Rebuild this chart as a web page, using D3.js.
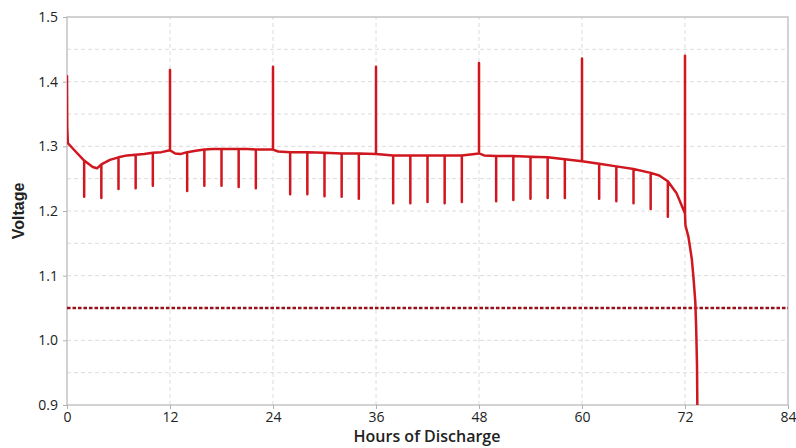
<!DOCTYPE html>
<html>
<head>
<meta charset="utf-8">
<script src="https://cdn.jsdelivr.net/npm/d3@7"></script>
<style>
  body { margin: 0; background: #fff; }
  svg { display: block; }
</style>
</head>
<body>
<div id="chart"></div>
<script>
// discharge curve (hours, volts) - the pulses hang off the even hours
const baseHours = [0, 0.01, 0.03, 0.1, 1, 2, 3, 3.5, 4, 5, 6, 7, 8, 9, 10, 11, 12, 12.6, 13.2, 14, 15, 16, 17, 18, 19, 20, 21, 22, 23, 24, 24.6,
  26, 28, 30, 32, 34, 36, 38, 40, 42, 44, 46, 48, 48.6, 50, 52, 54, 56, 58, 60, 62, 64, 66, 68, 69, 70, 71, 72,
  72.05, 72.4, 72.8, 73.0, 73.2, 73.3, 73.4, 73.45];
const baseVolts = [1.41, 1.38, 1.33, 1.305, 1.292, 1.278, 1.268, 1.266, 1.272, 1.279, 1.283, 1.286, 1.287, 1.288, 1.290, 1.291, 1.294, 1.289, 1.288, 1.291, 1.293, 1.295, 1.296, 1.296, 1.296, 1.296, 1.296, 1.295, 1.295, 1.295, 1.292,
  1.291, 1.291, 1.290, 1.289, 1.289, 1.288, 1.286, 1.286, 1.286, 1.286, 1.286, 1.289, 1.286, 1.285, 1.285, 1.284, 1.283, 1.280, 1.277, 1.273, 1.269, 1.265, 1.259, 1.255, 1.246, 1.228, 1.196,
  1.178, 1.16, 1.125, 1.095, 1.06, 1.02, 0.96, 0.88];

const pulseHours = [2, 4, 6, 8, 10, 12, 14, 16, 18, 20, 22, 24, 26, 28, 30, 32, 34, 36,
  38, 40, 42, 44, 46, 48, 50, 52, 54, 56, 58, 60, 62, 64, 66, 68, 70, 72];
const pulseVolts = [1.222, 1.220, 1.234, 1.235, 1.239, 1.418, 1.231, 1.239, 1.239, 1.237, 1.235, 1.423,
  1.226, 1.226, 1.223, 1.222, 1.219, 1.423, 1.212, 1.212, 1.214, 1.212, 1.214, 1.429,
  1.215, 1.217, 1.219, 1.220, 1.220, 1.436, 1.219, 1.215, 1.212, 1.203, 1.191, 1.440];

const cutoffVolt = 1.05;
const xTicks = [0, 12, 24, 36, 48, 60, 72, 84];
const yTicks = [0.9, 1.0, 1.1, 1.2, 1.3, 1.4, 1.5];
const yGrid = [0.95, 1.0, 1.05, 1.1, 1.15, 1.2, 1.25, 1.3, 1.35, 1.4, 1.45];

const W = 796, H = 448;
const margin = { top: 17, right: 8, bottom: 43, left: 67 };

const svg = d3.select("#chart").append("svg")
  .attr("width", W).attr("height", H);

let x = d3.scaleLinear().domain([0, 84]).range([margin.left, W - margin.right]);
let y = d3.scaleLinear().domain([0.9, 1.5]).range([H - margin.bottom, margin.top]);

// grid
svg.append("g").selectAll("line").data(yGrid).join("line")
  .attr("x1", x(0)).attr("x2", x(84))
  .attr("y1", d => y(d)).attr("y2", d => y(d))
  .attr("stroke", "#dcdcdc").attr("stroke-dasharray", "4,3");
svg.append("g").selectAll("line").data(xTicks.slice(1, -1)).join("line")
  .attr("x1", d => x(d)).attr("x2", d => x(d))
  .attr("y1", y(0.9)).attr("y2", y(1.5))
  .attr("stroke", "#dcdcdc").attr("stroke-dasharray", "4,3");

// frame
svg.append("rect")
  .attr("x", x(0)).attr("y", y(1.5))
  .attr("width", x(84) - x(0)).attr("height", y(0.9) - y(1.5))
  .attr("fill", "none").attr("stroke", "#c4c4c4").attr("stroke-width", 1.5);

// axes
const leftAxis = d3.axisLeft(y).tickValues(yTicks).tickFormat(d3.format(".1f")).tickSize(4).tickPadding(5);
const bottomAxis = d3.axisBottom(x).tickValues(xTicks).tickSize(4).tickPadding(3);

const gy = svg.append("g").attr("transform", `translate(${x(0)},0)`).call(leftAxis);
const gx = svg.append("g").attr("transform", `translate(0,${y(0.9)})`).call(bottomAxis);
[gx, gy].forEach(g => {
  g.select(".domain").remove();
  g.selectAll(".tick line").attr("stroke", "#b0b0b0");
  g.selectAll(".tick text").attr("fill", "#222")
    .style("font-family", "'Open Sans', 'Noto Sans', sans-serif").style("font-size", "14px");
});

// clip for the end of the curve
svg.append("clipPath").attr("id", "plotclip").append("rect")
  .attr("x", x(0)).attr("y", y(1.5))
  .attr("width", x(84) - x(0)).attr("height", y(0.9) - y(1.5));

// cutoff line
svg.append("line")
  .attr("x1", x(0)).attr("x2", x(84))
  .attr("y1", y(cutoffVolt)).attr("y2", y(cutoffVolt))
  .attr("stroke", "#9a1018").attr("stroke-width", 2.4).attr("stroke-dasharray", "3.5,2");

// build the path: at each pulse hour go out to the pulse value and come back
let pts = [];
baseHours.forEach((h, i) => {
  pts.push([h, baseVolts[i]]);
  let k = pulseHours.indexOf(h);
  if (k >= 0) {
    pts.push([h, pulseVolts[k]]);
    pts.push([h, baseVolts[i]]);
  }
});

const line = d3.line().x(d => x(d[0])).y(d => y(d[1]));
svg.append("path")
  .datum(pts)
  .attr("clip-path", "url(#plotclip)")
  .attr("d", line)
  .attr("fill", "none")
  .attr("stroke", "#d0161e")
  .attr("stroke-width", 2.5)
  .attr("stroke-linejoin", "round");

// labels
svg.append("text")
  .attr("transform", `translate(24,${(y(0.9) + y(1.5)) / 2}) rotate(-90)`)
  .attr("text-anchor", "middle")
  .style("font-family", "'Liberation Sans', Arial, sans-serif")
  .style("font-weight", "bold").style("font-size", "16px")
  .attr("fill", "#222")
  .text("Voltage");

svg.append("text")
  .attr("x", 427).attr("y", 442)
  .attr("text-anchor", "middle")
  .style("font-family", "'Open Sans', 'Noto Sans', sans-serif")
  .style("font-size", "16px").style("font-weight", "600")
  .attr("fill", "#222")
  .text("Hours of Discharge");
</script>
</body>
</html>
